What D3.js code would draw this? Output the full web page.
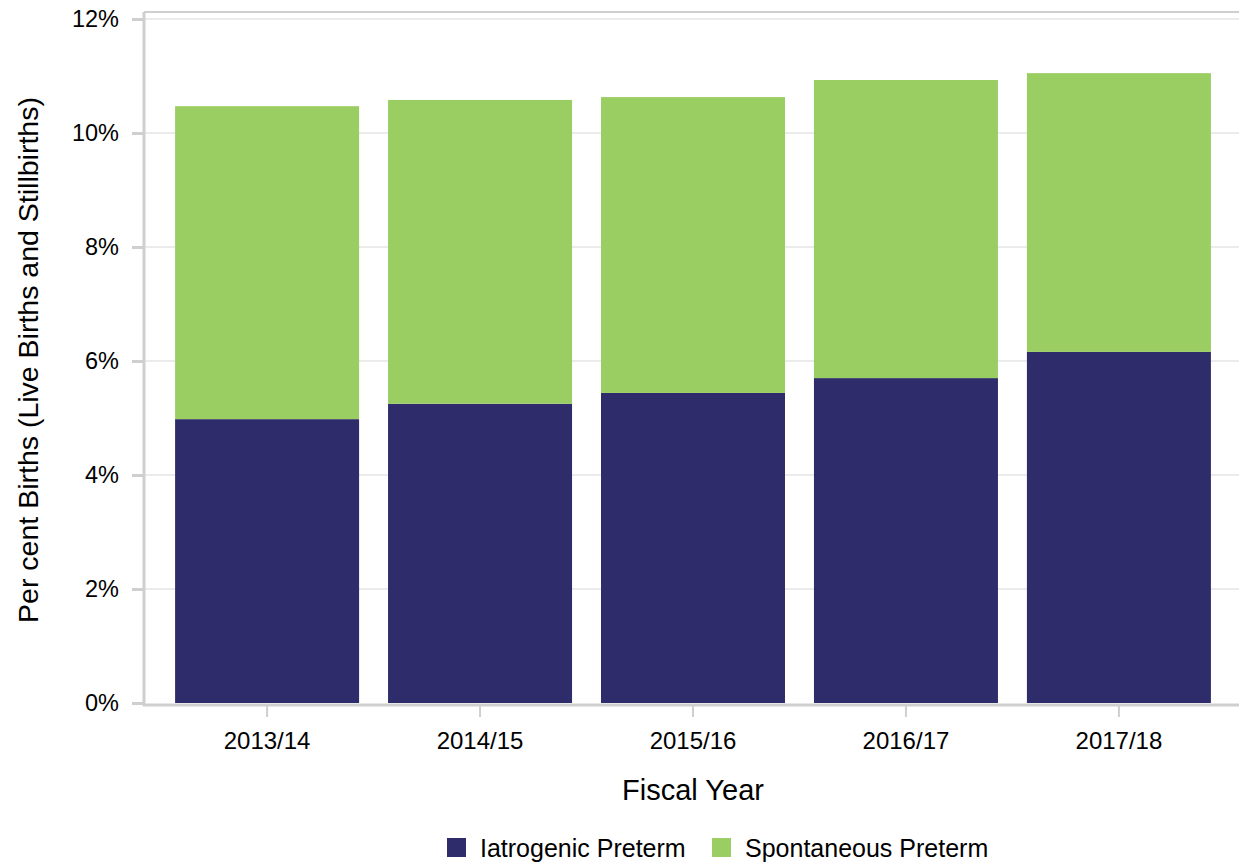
<!DOCTYPE html>
<html><head><meta charset="utf-8">
<script src="https://cdn.jsdelivr.net/npm/d3@7/dist/d3.min.js"></script>
<style>body{margin:0;background:#fff}text{font-family:Arial,"Liberation Sans",sans-serif;fill:#000}</style>
</head><body><svg id="c" width="1239" height="863"></svg>
<script>
const categories = ["2013/14","2014/15","2015/16","2016/17","2017/18"];
const iatrogenic = [4.98, 5.25, 5.44, 5.70, 6.16];
const spontaneous = [5.49, 5.33, 5.19, 5.23, 4.89];
const seriesNames = ["Iatrogenic Preterm","Spontaneous Preterm"];
const colors = ["#2e2c6b","#9acd62"];
const yTicks = [0,2,4,6,8,10,12];

const svg = d3.select("#c");
const x0 = 144, x1 = 1242, yTop = 19, yBot = 703;
const x = d3.scaleBand().domain(categories).range([x0,x1]).paddingInner(0.136).paddingOuter(0.146);
const y = d3.scaleLinear().domain([0,12]).range([yBot,yTop]);

// gridlines
svg.append("g").selectAll("line").data(yTicks.filter(d=>d>0)).join("line")
  .attr("x1",x0).attr("x2",1239).attr("y1",d=>y(d)).attr("y2",d=>y(d))
  .attr("stroke","#ebebeb").attr("stroke-width",2);

const table = categories.map((c,i)=>({cat:c, "Iatrogenic Preterm":iatrogenic[i], "Spontaneous Preterm":spontaneous[i]}));
const stack = d3.stack().keys(seriesNames)(table);
svg.append("g").selectAll("g").data(stack).join("g")
  .attr("fill",(d,i)=>colors[i])
  .selectAll("rect").data(d=>d).join("rect")
  .attr("x",d=>x(d.data.cat)).attr("width",x.bandwidth())
  .attr("y",d=>y(d[1])).attr("height",d=>y(d[0])-y(d[1]));

// frame lines
svg.append("line").attr("x1",x0).attr("x2",1239).attr("y1",12).attr("y2",12).attr("stroke","#cfcfcf").attr("stroke-width",2);
svg.append("line").attr("x1",x0).attr("x2",x0).attr("y1",12).attr("y2",706).attr("stroke","#cfcfcf").attr("stroke-width",3);
svg.append("line").attr("x1",x0-1).attr("x2",1239).attr("y1",705).attr("y2",705).attr("stroke","#cfcfcf").attr("stroke-width",3);

// y axis
const ya = svg.append("g").attr("transform",`translate(${x0},0)`)
  .call(d3.axisLeft(y).tickValues(yTicks).tickFormat(d=>d+"%").tickSize(12).tickPadding(13));
ya.select(".domain").remove();
ya.selectAll(".tick line").attr("stroke","#cfcfcf").attr("stroke-width",3);
ya.selectAll(".tick text").style("font-size","23.5px").attr("fill","#000");

// x axis
const xa = svg.append("g").attr("transform",`translate(0,706)`)
  .call(d3.axisBottom(x).tickSize(11).tickPadding(15));
xa.select(".domain").remove();
xa.selectAll(".tick line").attr("stroke","#cfcfcf").attr("stroke-width",2);
xa.selectAll(".tick text").style("font-size","24px").attr("fill","#000");

// titles
svg.append("text").attr("x",693).attr("y",800).attr("text-anchor","middle").style("font-size","29px").text("Fiscal Year");
svg.append("text").attr("transform","translate(38,360) rotate(-90)").attr("text-anchor","middle").style("font-size","28.5px").text("Per cent Births (Live Births and Stillbirths)");

// legend
const leg = svg.append("g");
const lx = [447, 712];
seriesNames.forEach((n,i)=>{
  leg.append("rect").attr("x",lx[i]).attr("y",838).attr("width",19).attr("height",19).attr("fill",colors[i]);
  leg.append("text").attr("x",lx[i]+33).attr("y",857).style("font-size","25px").text(n);
});
</script></body></html>
